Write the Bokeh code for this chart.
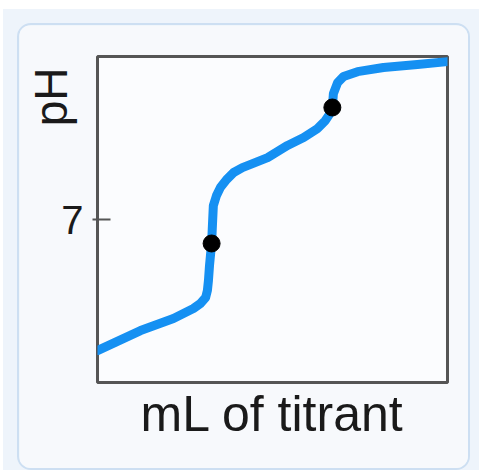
import math
from bokeh.plotting import figure
from bokeh.models import Range1d, FixedTicker, Title
from bokeh.layouts import column
from bokeh.embed import file_html
from bokeh.resources import INLINE

# ---- data ----
ml_titrant = [0.0, 12.3, 21.7, 27.4, 29.4, 30.9, 31.4, 31.7, 32.0, 32.6, 32.9, 33.1,
              34.0, 35.1, 36.9, 38.9, 41.4, 44.3, 48.6, 54.3, 58.9, 62.9, 65.1, 66.6,
              67.1, 67.4, 68.6, 70.3, 74.3, 81.7, 91.4, 100.0]
ph_values = [1.37, 2.23, 2.75, 3.18, 3.39, 3.65, 3.95, 4.38, 5.02, 5.97, 6.96, 7.60,
             8.03, 8.37, 8.72, 9.02, 9.23, 9.40, 9.66, 10.18, 10.52, 10.91, 11.25, 11.59,
             11.81, 12.41, 12.88, 13.14, 13.35, 13.53, 13.66, 13.78]
marker_ml = [32.6, 67.1]
marker_ph = [5.97, 11.81]
y_ticks = [7]
x_title = "mL of titrant"
y_title = "pH"

FONT = "Liberation Sans"
TEXT = "#1a1a1a"
FRAME = "#555555"

p = figure(width=453, height=447, x_range=Range1d(0, 100), y_range=Range1d(0, 14),
           output_backend="svg", toolbar_location=None,
           min_border_left=78, min_border_right=25, min_border_top=31, min_border_bottom=90)
p.background_fill_color = "#fbfcfe"
p.border_fill_color = "#f7f9fc"
p.outline_line_color = FRAME
p.outline_line_width = 3
p.grid.visible = False

p.xaxis.ticker = FixedTicker(ticks=[])
p.xaxis.major_tick_out = 0
p.xaxis.major_tick_in = 0
p.xaxis.minor_tick_line_color = None
p.xaxis.axis_line_color = None
p.xaxis.axis_label = x_title
p.xaxis.axis_label_text_font = FONT
p.xaxis.axis_label_text_font_size = "50px"
p.xaxis.axis_label_text_font_style = "normal"
p.xaxis.axis_label_text_color = TEXT
p.xaxis.axis_label_standoff = 3

p.yaxis.ticker = FixedTicker(ticks=y_ticks)
p.yaxis.major_tick_in = 13
p.yaxis.major_tick_out = 5
p.yaxis.major_tick_line_color = FRAME
p.yaxis.major_tick_line_width = 2
p.yaxis.minor_tick_line_color = None
p.yaxis.axis_line_color = None
p.yaxis.major_label_text_font = FONT
p.yaxis.major_label_text_font_size = "40px"
p.yaxis.major_label_text_color = TEXT
p.yaxis.major_label_standoff = 9

p.add_layout(Title(text=y_title, align="right", vertical_align="top", text_font=FONT,
                   text_font_size="46px", text_font_style="normal", text_color=TEXT,
                   standoff=-41, offset=11),
             "left")

p.line(ml_titrant, ph_values, line_color="#1590f2", line_width=9,
       line_join="round", line_cap="round")
p.scatter(marker_ml, marker_ph, size=17, fill_color="black", line_color="black")

p.styles = {"border": "2px solid #cddff2", "border-radius": "14px", "overflow": "hidden"}

inner = column(p, styles={"background-color": "#eef4fb", "padding": "14px 9px 0px 14px"})
layout = column(inner, styles={"padding": "9px 0px 0px 3px"})

open("out.html", "w").write(file_html(layout, INLINE))
